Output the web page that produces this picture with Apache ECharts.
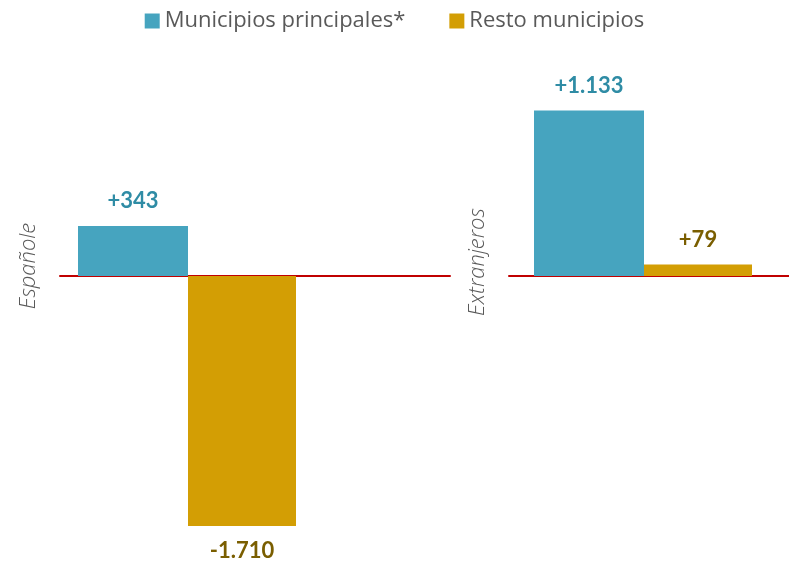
<!DOCTYPE html>
<html>
<head>
<meta charset="utf-8">
<script src="https://cdn.jsdelivr.net/npm/echarts@6/dist/echarts.min.js"></script>
<style>
  html, body { margin: 0; padding: 0; background: #fff; }
  #chart { width: 789px; height: 565px; }
</style>
</head>
<body>
<div id="chart"></div>
<script>
// datos
const panels = ['Españole', 'Extranjeros']
const seriesNames = ['Municipios principales*', 'Resto municipios']
const principales = [343, 1133]
const resto = [-1710, 79]

const fmt = function (v) {
  const s = Math.abs(v).toString().replace(/\B(?=(\d{3})+(?!\d))/g, '.')
  return (v < 0 ? '-' : '+') + s
}

const chart = echarts.init(document.getElementById('chart'))

const grids = [
  { left: 60, width: 390, top: 86, bottom: 39 },
  { left: 509, width: 290, top: 86, bottom: 39 }
]
// hueco invisible para desplazar las barras dentro de cada panel
const spacer = [136, 12]
// desplazar el nombre del eje hacia arriba
const namePad = [80, 88]

let series = []
panels.forEach(function (p, i) {
  series.push({
    name: seriesNames[0],
    type: 'bar',
    xAxisIndex: i,
    yAxisIndex: i,
    barWidth: 110,
    barGap: '0%',
    data: [principales[i]],
    itemStyle: { color: '#46A4BF' },
    label: {
      show: true,
      position: principales[i] < 0 ? 'bottom' : 'top',
      distance: 14,
      formatter: function (o) { return fmt(o.value) },
      color: '#2F8CA5',
      fontFamily: 'Lato',
      fontWeight: 'bold',
      fontSize: 22
    }
  })
  series.push({
    name: seriesNames[1],
    type: 'bar',
    xAxisIndex: i,
    yAxisIndex: i,
    barWidth: 108,
    barGap: '0%',
    data: [resto[i]],
    itemStyle: { color: '#D39E04' },
    label: {
      show: true,
      position: resto[i] < 0 ? 'bottom' : 'top',
      distance: 14,
      formatter: function (o) { return fmt(o.value) },
      color: '#7A5E00',
      fontFamily: 'Lato',
      fontWeight: 'bold',
      fontSize: 22
    }
  })
  series.push({
    name: 'spacer' + i,
    type: 'bar',
    xAxisIndex: i,
    yAxisIndex: i,
    barWidth: spacer[i],
    barGap: '0%',
    data: [null],
    itemStyle: { color: 'rgba(0,0,0,0)' },
    label: { show: false },
    silent: true
  })
})

const option = {
  animation: false,
  legend: {
    data: seriesNames,
    top: 5,
    left: 'center',
    icon: 'rect',
    itemWidth: 15,
    itemHeight: 15,
    itemGap: 44,
    textStyle: { fontFamily: 'Open Sans', fontSize: 22, color: '#595959' }
  },
  grid: grids,
  xAxis: panels.map(function (p, i) {
    return {
      type: 'category',
      gridIndex: i,
      data: [p],
      axisLine: { symbol: 'none', lineStyle: { color: '#C00000', width: 2 } },
      axisTick: { show: false },
      axisLabel: { show: false },
      splitLine: { show: false },
      axisPointer: { show: false }
    }
  }),
  yAxis: panels.map(function (p, i) {
    return {
      type: 'value',
      gridIndex: i,
      min: -1710,
      max: 1300,
      name: p,
      nameLocation: 'middle',
      nameGap: 20,
      nameTextStyle: {
        fontFamily: 'Open Sans',
        fontStyle: 'italic',
        fontWeight: 300,
        fontSize: 22,
        color: '#595959',
        padding: [0, 0, 0, namePad[i]]
      },
      axisLine: { show: false, onZero: false },
      axisTick: { show: false },
      minorTick: { show: false },
      axisLabel: { show: false },
      splitLine: { show: false },
      axisPointer: { show: false }
    }
  }),
  series: series
}
chart.setOption(option)
</script>
</body>
</html>
